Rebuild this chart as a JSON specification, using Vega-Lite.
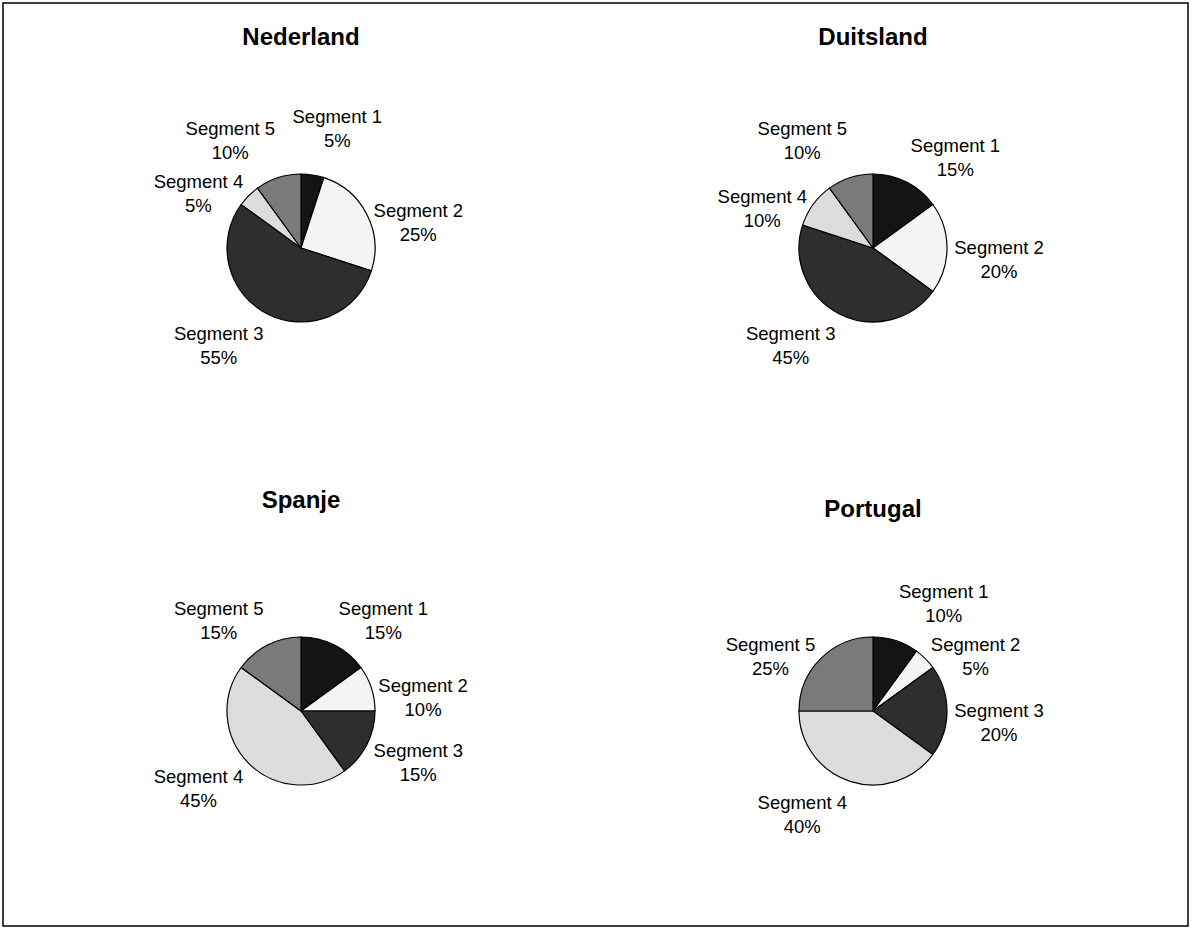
{
  "$schema": "https://vega.github.io/schema/vega-lite/v6.json",
  "autosize": {"type": "fit", "contains": "padding"},
  "width": 1193,
  "height": 930,
  "padding": {"left": 3, "top": 3, "right": 5, "bottom": 4},
  "background": "white",
  "config": {
    "view": {"stroke": "black", "strokeWidth": 1.5},
    "font": "Liberation Sans"
  },
  "datasets": {
    "slices": [
      {"country": "Nederland", "col": "left", "row": "top", "seg": "Segment 1", "pct": 5},
      {"country": "Nederland", "col": "left", "row": "top", "seg": "Segment 2", "pct": 25},
      {"country": "Nederland", "col": "left", "row": "top", "seg": "Segment 3", "pct": 55},
      {"country": "Nederland", "col": "left", "row": "top", "seg": "Segment 4", "pct": 5},
      {"country": "Nederland", "col": "left", "row": "top", "seg": "Segment 5", "pct": 10},
      {"country": "Duitsland", "col": "right", "row": "top", "seg": "Segment 1", "pct": 15},
      {"country": "Duitsland", "col": "right", "row": "top", "seg": "Segment 2", "pct": 20},
      {"country": "Duitsland", "col": "right", "row": "top", "seg": "Segment 3", "pct": 45},
      {"country": "Duitsland", "col": "right", "row": "top", "seg": "Segment 4", "pct": 10},
      {"country": "Duitsland", "col": "right", "row": "top", "seg": "Segment 5", "pct": 10},
      {"country": "Spanje", "col": "left", "row": "bottom", "seg": "Segment 1", "pct": 15},
      {"country": "Spanje", "col": "left", "row": "bottom", "seg": "Segment 2", "pct": 10},
      {"country": "Spanje", "col": "left", "row": "bottom", "seg": "Segment 3", "pct": 15},
      {"country": "Spanje", "col": "left", "row": "bottom", "seg": "Segment 4", "pct": 45},
      {"country": "Spanje", "col": "left", "row": "bottom", "seg": "Segment 5", "pct": 15},
      {"country": "Portugal", "col": "right", "row": "bottom", "seg": "Segment 1", "pct": 10},
      {"country": "Portugal", "col": "right", "row": "bottom", "seg": "Segment 2", "pct": 5},
      {"country": "Portugal", "col": "right", "row": "bottom", "seg": "Segment 3", "pct": 20},
      {"country": "Portugal", "col": "right", "row": "bottom", "seg": "Segment 4", "pct": 40},
      {"country": "Portugal", "col": "right", "row": "bottom", "seg": "Segment 5", "pct": 25}
    ],
    "titles": [
      {"country": "Nederland", "col": "left", "row": "top"},
      {"country": "Duitsland", "col": "right", "row": "top"},
      {"country": "Spanje", "col": "left", "row": "bottom"},
      {"country": "Portugal", "col": "right", "row": "bottom"}
    ]
  },
  "layer": [
    {
      "data": {"name": "slices"},
      "transform": [
        {"stack": "pct", "groupby": ["country"], "sort": [{"field": "seg", "order": "ascending"}], "as": ["t0", "t1"]}
      ],
      "mark": {"type": "arc", "outerRadius": 74, "stroke": "black", "strokeWidth": 1.2},
      "encoding": {
        "x": {"field": "col", "type": "nominal", "scale": {"type": "point", "domain": ["left", "right"], "range": [298, 870], "padding": 0}, "axis": null},
        "y": {"field": "row", "type": "nominal", "scale": {"type": "point", "domain": ["top", "bottom"], "range": [245, 708], "padding": 0}, "axis": null},
        "theta": {"field": "t0", "type": "quantitative", "scale": {"domain": [0, 100], "range": [0, 6.283185307179586]}},
        "theta2": {"field": "t1"},
        "color": {
          "field": "seg", "type": "nominal", "legend": null,
          "scale": {"domain": ["Segment 1", "Segment 2", "Segment 3", "Segment 4", "Segment 5"],
                    "range": ["#141414", "#f4f4f4", "#2e2e2e", "#dcdcdc", "#7a7a7a"]}
        }
      }
    },
    {
      "data": {"name": "slices"},
      "transform": [
        {"stack": "pct", "groupby": ["country"], "sort": [{"field": "seg", "order": "ascending"}], "as": ["t0", "t1"]},
        {"calculate": "(datum.t0 + datum.t1) / 2 * 2 * PI / 100", "as": "th"},
        {"calculate": "sin(datum.th)", "as": "s"},
        {"calculate": "cos(datum.th)", "as": "c"},
        {"calculate": "80 * datum.s + 46 * (datum.s > 0 ? 1 : -1) * min(1, 3.3 * abs(datum.s))", "as": "ox"},
        {"calculate": "-(80 * datum.c + (datum.c > 0 ? 55 * pow(datum.c, 3) : 18) * datum.c * abs(datum.c))", "as": "oy"},
        {"calculate": "atan2(datum.ox, -datum.oy)", "as": "lt"},
        {"calculate": "sqrt(datum.ox * datum.ox + datum.oy * datum.oy)", "as": "lr"},
        {"calculate": "[datum.seg, datum.pct + '%']", "as": "label"}
      ],
      "mark": {"type": "text", "fontSize": 18.5, "lineHeight": 24, "align": "center", "baseline": "middle", "color": "black"},
      "encoding": {
        "x": {"field": "col", "type": "nominal", "scale": {"type": "point", "domain": ["left", "right"], "range": [298, 870], "padding": 0}, "axis": null},
        "y": {"field": "row", "type": "nominal", "scale": {"type": "point", "domain": ["top", "bottom"], "range": [245, 708], "padding": 0}, "axis": null},
        "theta": {"field": "lt", "type": "quantitative", "scale": null},
        "radius": {"field": "lr", "type": "quantitative", "scale": null},
        "text": {"field": "label"}
      }
    },
    {
      "data": {"name": "titles"},
      "transform": [{"filter": "datum.country != 'Portugal'"}],
      "mark": {"type": "text", "fontSize": 24, "fontWeight": "bold", "align": "center", "baseline": "alphabetic", "dy": -203, "color": "black"},
      "encoding": {
        "x": {"field": "col", "type": "nominal", "scale": {"type": "point", "domain": ["left", "right"], "range": [298, 870], "padding": 0}, "axis": null},
        "y": {"field": "row", "type": "nominal", "scale": {"type": "point", "domain": ["top", "bottom"], "range": [245, 708], "padding": 0}, "axis": null},
        "text": {"field": "country"}
      }
    },
    {
      "data": {"name": "titles"},
      "transform": [{"filter": "datum.country == 'Portugal'"}],
      "mark": {"type": "text", "fontSize": 24, "fontWeight": "bold", "align": "center", "baseline": "alphabetic", "dy": -194, "color": "black"},
      "encoding": {
        "x": {"field": "col", "type": "nominal", "scale": {"type": "point", "domain": ["left", "right"], "range": [298, 870], "padding": 0}, "axis": null},
        "y": {"field": "row", "type": "nominal", "scale": {"type": "point", "domain": ["top", "bottom"], "range": [245, 708], "padding": 0}, "axis": null},
        "text": {"field": "country"}
      }
    }
  ]
}
